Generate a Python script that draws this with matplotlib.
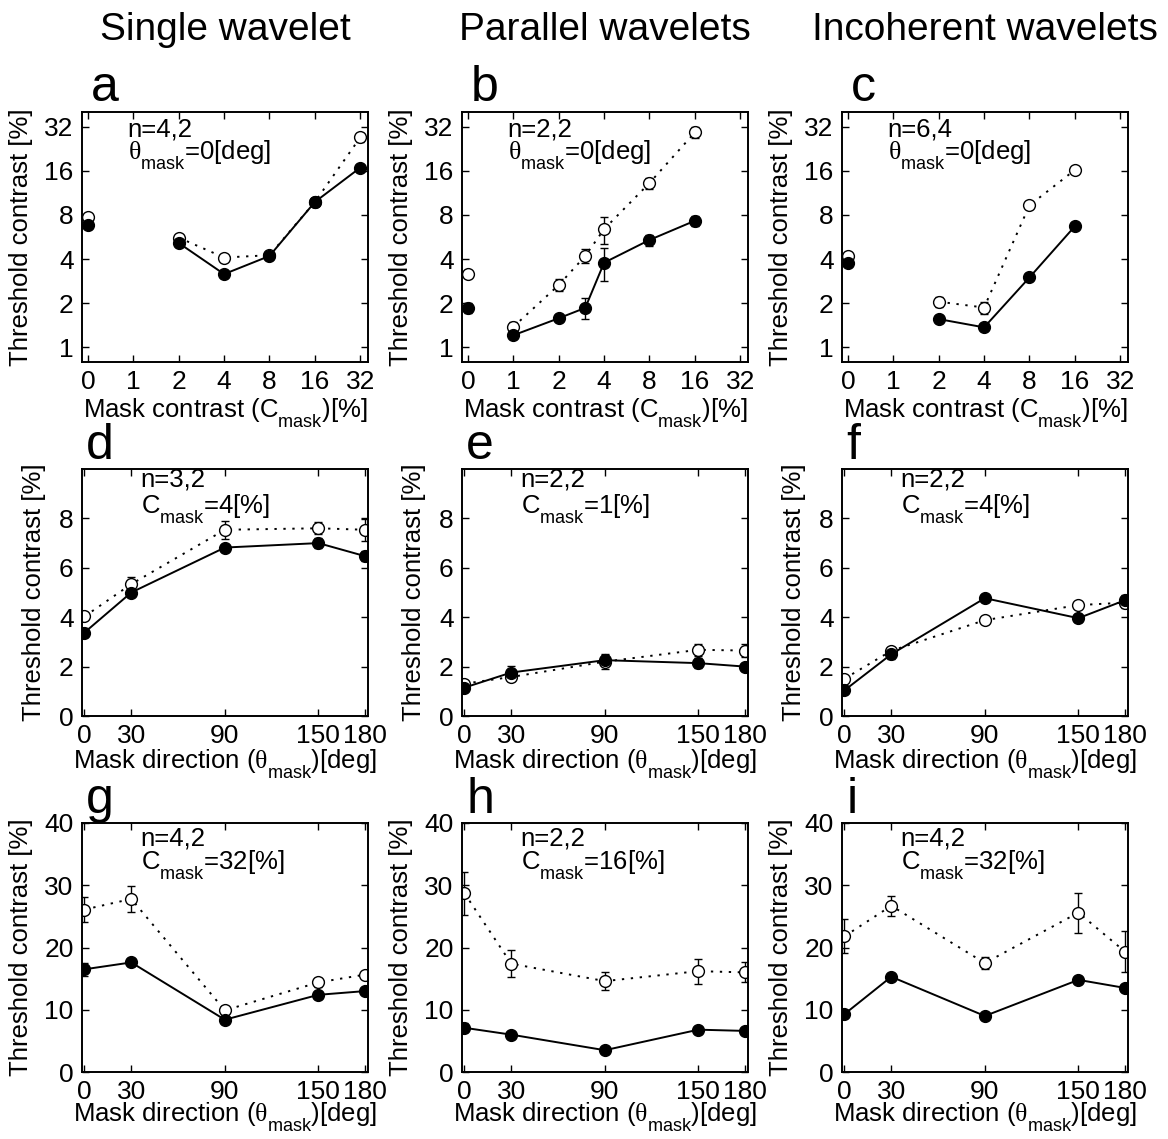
import numpy as np
import matplotlib
matplotlib.use('Agg')
import matplotlib.pyplot as plt
try:
    import matplotlib._mathtext as _mt
    _mt.FontConstantsBase.sub1 = 0.9
    _mt.FontConstantsBase.sub2 = 0.9
except Exception:
    pass

plt.rcParams['font.family'] = ['Liberation Sans', 'DejaVu Sans']
plt.rcParams['mathtext.fontset'] = 'custom'
plt.rcParams['mathtext.rm'] = 'Liberation Serif'
plt.rcParams['mathtext.sf'] = 'Liberation Sans'
plt.rcParams['mathtext.it'] = 'Liberation Serif:italic'

# ---------------- data ----------------
column_titles = ['Single wavelet', 'Parallel wavelets', 'Incoherent wavelets']
panel_letters = ['a', 'b', 'c', 'd', 'e', 'f', 'g', 'h', 'i']

contrast_ticks = [0, 1, 2, 4, 8, 16, 32]
contrast_tick_labels = ['0', '1', '2', '4', '8', '16', '32']
log_thr_ticks = [1, 2, 4, 8, 16, 32]
log_thr_labels = ['1', '2', '4', '8', '16', '32']
direction_ticks = [0, 30, 90, 150, 180]
direction_tick_labels = ['0', '30', '90', '150', '180']

# Row 1 (threshold vs mask contrast); first point (C=0) is unconnected
a_mask = [0, 2, 4, 8, 16, 32]
a_filled = [6.8, 5.15, 3.16, 4.2, 9.8, 16.8]
a_filled_err = [0.2, 0.15, 0.1, 0.15, 0.3, 0.6]
a_open = [7.7, 5.6, 4.1, 4.25, 9.8, 27.0]
a_open_err = [0.2, 0.2, 0.1, 0.15, 0.3, 2.0]
a_n = 'n=4,2'

b_mask = [0, 1, 2, 3, 4, 8, 16]
b_filled = [1.87, 1.21, 1.58, 1.86, 3.78, 5.4, 7.3]
b_filled_err = [0.15, 0.05, 0.06, 0.3, 0.95, 0.45, 0.6]
b_open = [3.15, 1.38, 2.66, 4.2, 6.4, 13.2, 29.2]
b_open_err = [0.1, 0.1, 0.25, 0.45, 1.3, 1.1, 2.5]
b_n = 'n=2,2'

c_mask = [0, 2, 4, 8, 16]
c_filled = [3.75, 1.56, 1.37, 3.0, 6.7]
c_filled_err = [0.1, 0.05, 0.05, 0.1, 0.2]
c_open = [4.2, 2.05, 1.87, 9.3, 16.2]
c_open_err = [0.1, 0.15, 0.17, 0.3, 0.3]
c_n = 'n=6,4'

# Row 2 (threshold vs mask direction, low mask contrast)
mask_dir = [0, 30, 90, 150, 180]
d_filled = [3.38, 5.0, 6.82, 7.0, 6.47]
d_filled_err = [0.2, 0.1, 0.1, 0.2, 0.2]
d_open = [4.03, 5.34, 7.54, 7.6, 7.54]
d_open_err = [0.1, 0.3, 0.37, 0.25, 0.45]
d_n, d_c = 'n=3,2', '4'

e_filled = [1.15, 1.76, 2.26, 2.14, 2.0]
e_filled_err = [0.05, 0.25, 0.2, 0.2, 0.1]
e_open = [1.31, 1.58, 2.2, 2.68, 2.65]
e_open_err = [0.1, 0.15, 0.3, 0.25, 0.25]
e_n, e_c = 'n=2,2', '1'

f_filled = [1.04, 2.5, 4.77, 3.96, 4.69]
f_filled_err = [0.1, 0.2, 0.12, 0.15, 0.2]
f_open = [1.51, 2.64, 3.88, 4.49, 4.59]
f_open_err = [0.1, 0.1, 0.05, 0.05, 0.2]
f_n, f_c = 'n=2,2', '4'

# Row 3 (threshold vs mask direction, high mask contrast)
g_filled = [16.5, 17.6, 8.4, 12.4, 13.0]
g_filled_err = [1.0, 0.6, 0.3, 0.3, 0.3]
g_open = [26.1, 27.8, 9.9, 14.4, 15.65]
g_open_err = [2.0, 2.1, 0.5, 0.7, 0.4]
g_n, g_c = 'n=4,2', '32'

h_filled = [7.1, 6.0, 3.5, 6.8, 6.6]
h_filled_err = [0.7, 0.3, 0.2, 0.3, 0.3]
h_open = [28.7, 17.4, 14.6, 16.2, 16.0]
h_open_err = [3.4, 2.2, 1.4, 2.0, 1.6]
h_n, h_c = 'n=2,2', '16'

i_filled = [9.3, 15.3, 9.0, 14.8, 13.5]
i_filled_err = [0.4, 0.3, 0.3, 0.3, 0.3]
i_open = [21.8, 26.7, 17.5, 25.6, 19.3]
i_open_err = [2.7, 1.6, 1.0, 3.2, 3.3]
i_n, i_c = 'n=4,2', '32'

# ---------------- figure ----------------
W, H = 1168, 1139
fig = plt.figure(figsize=(W / 100, H / 100), dpi=100)

col_left = [82, 462, 842]
ax_w = 286
row_tb = [(112, 362), (469, 716), (823, 1072)]

FS_TICK = 19
FS_LABEL = 18.5
FS_ANN = 18.5
FS_LETTER = 36
FS_TITLE = 28

def make_ax(r, c):
    top, bot = row_tb[r]
    ax = fig.add_axes([col_left[c] / W, (H - bot) / H, ax_w / W, (bot - top) / H])
    for s in ax.spines.values():
        s.set_linewidth(1.4)
    ax.tick_params(direction='in', length=5, width=1.0, top=True, right=True,
                   labelsize=FS_TICK, pad=6)
    return ax

def cpos(vals):
    v = np.asarray(vals, dtype=float)
    return np.where(v == 0, 0.5, v)

solid_kw = dict(color='k', lw=1.4, ls='-')
dot_kw = dict(color='k', lw=1.4, ls=(0, (1.2, 3.4)))
fill_mk = dict(ls='none', marker='o', ms=8.5, mfc='k', mec='k', mew=1)
open_mk = dict(ls='none', marker='o', ms=8.5, mfc='white', mec='k', mew=1)
err_kw = dict(fmt='none', ecolor='k', elinewidth=1.0, capsize=3, capthick=1.0)

def draw_series(ax, x, filled, ferr, opn, oerr, connect_first):
    x = np.asarray(x, dtype=float)
    s = 0 if connect_first else 1
    ax.plot(x[s:], opn[s:], **dot_kw)
    ax.plot(x[s:], filled[s:], **solid_kw)
    ax.errorbar(x, opn, yerr=oerr, **err_kw)
    ax.errorbar(x, filled, yerr=ferr, **err_kw)
    ax.plot(x, opn, **open_mk)
    ax.plot(x, filled, **fill_mk)

# Row 1
row1 = [(a_mask, a_filled, a_filled_err, a_open, a_open_err, a_n),
        (b_mask, b_filled, b_filled_err, b_open, b_open_err, b_n),
        (c_mask, c_filled, c_filled_err, c_open, c_open_err, c_n)]
for c, (xm, fv, fe, ov, oe, nstr) in enumerate(row1):
    ax = make_ax(0, c)
    ax.set_xscale('log', base=2)
    ax.set_yscale('log', base=2)
    draw_series(ax, cpos(xm), fv, fe, ov, oe, connect_first=False)
    ax.set_xlim(2 ** -1.13, 2 ** 5.17)
    ax.set_ylim(2 ** -0.33, 2 ** 5.33)
    ax.set_xticks(cpos(contrast_ticks))
    ax.set_xticklabels(contrast_tick_labels)
    ax.set_yticks(log_thr_ticks)
    ax.set_yticklabels(log_thr_labels)
    ax.minorticks_off()
    ax.set_xlabel(r'Mask contrast (C$_{\mathsf{mask}}$)[%]', fontsize=FS_LABEL)
    ax.set_ylabel('Threshold contrast [%]', fontsize=FS_LABEL)
    ax.xaxis.set_label_coords(0.5, -0.138)
    ax.yaxis.set_label_coords(-0.17, 0.5)
    ax.text(0.16, 0.932, nstr, transform=ax.transAxes, fontsize=FS_ANN, va='center', ha='left')
    ax.text(0.16, 0.812, r'$\mathrm{θ}_{\mathsf{mask}}$=0[deg]', transform=ax.transAxes,
            fontsize=FS_ANN, va='baseline', ha='left')
    ax.text(0.03, 1.045, panel_letters[c], transform=ax.transAxes, fontsize=FS_LETTER,
            va='baseline', ha='left')
    fig.text((col_left[c] + ax_w / 2) / W, 1 - 40 / H, column_titles[c], fontsize=FS_TITLE,
             ha='center', va='baseline')

# Rows 2 and 3
rows23 = [
    [(d_filled, d_filled_err, d_open, d_open_err, d_n, d_c),
     (e_filled, e_filled_err, e_open, e_open_err, e_n, e_c),
     (f_filled, f_filled_err, f_open, f_open_err, f_n, f_c)],
    [(g_filled, g_filled_err, g_open, g_open_err, g_n, g_c),
     (h_filled, h_filled_err, h_open, h_open_err, h_n, h_c),
     (i_filled, i_filled_err, i_open, i_open_err, i_n, i_c)],
]
for ri, row in enumerate(rows23):
    r = ri + 1
    for c, (fv, fe, ov, oe, nstr, cstr) in enumerate(row):
        ax = make_ax(r, c)
        draw_series(ax, mask_dir, fv, fe, ov, oe, connect_first=True)
        ax.set_xlim(-1.6, 181.8)
        ax.set_xticks(direction_ticks)
        ax.set_xticklabels(direction_tick_labels)
        if r == 1:
            ax.set_ylim(0, 10)
            ax.set_yticks([0, 2, 4, 6, 8])
            ax.yaxis.set_label_coords(-0.125, 0.5)
            ax.xaxis.set_label_coords(0.5, -0.128)
            ny, cy = 0.957, 0.82
        else:
            ax.set_ylim(0, 40)
            ax.set_yticks([0, 10, 20, 30, 40])
            ax.yaxis.set_label_coords(-0.17, 0.5)
            ax.xaxis.set_label_coords(0.5, -0.115)
            ny, cy = 0.936, 0.816
        ax.set_xlabel(r'Mask direction ($\mathrm{θ}_{\mathsf{mask}}$)[deg]', fontsize=FS_LABEL)
        ax.set_ylabel('Threshold contrast [%]', fontsize=FS_LABEL)
        ax.text(0.205, ny, nstr, transform=ax.transAxes, fontsize=FS_ANN, va='center', ha='left')
        ax.text(0.205, cy, r'C$_{\mathsf{mask}}$=' + cstr + '[%]', transform=ax.transAxes,
                fontsize=FS_ANN, va='baseline', ha='left')
        ax.text(0.015, 1.04, panel_letters[3 * r + c], transform=ax.transAxes,
                fontsize=FS_LETTER, va='baseline', ha='left')

fig.savefig('out.png', dpi=100, facecolor='white')
